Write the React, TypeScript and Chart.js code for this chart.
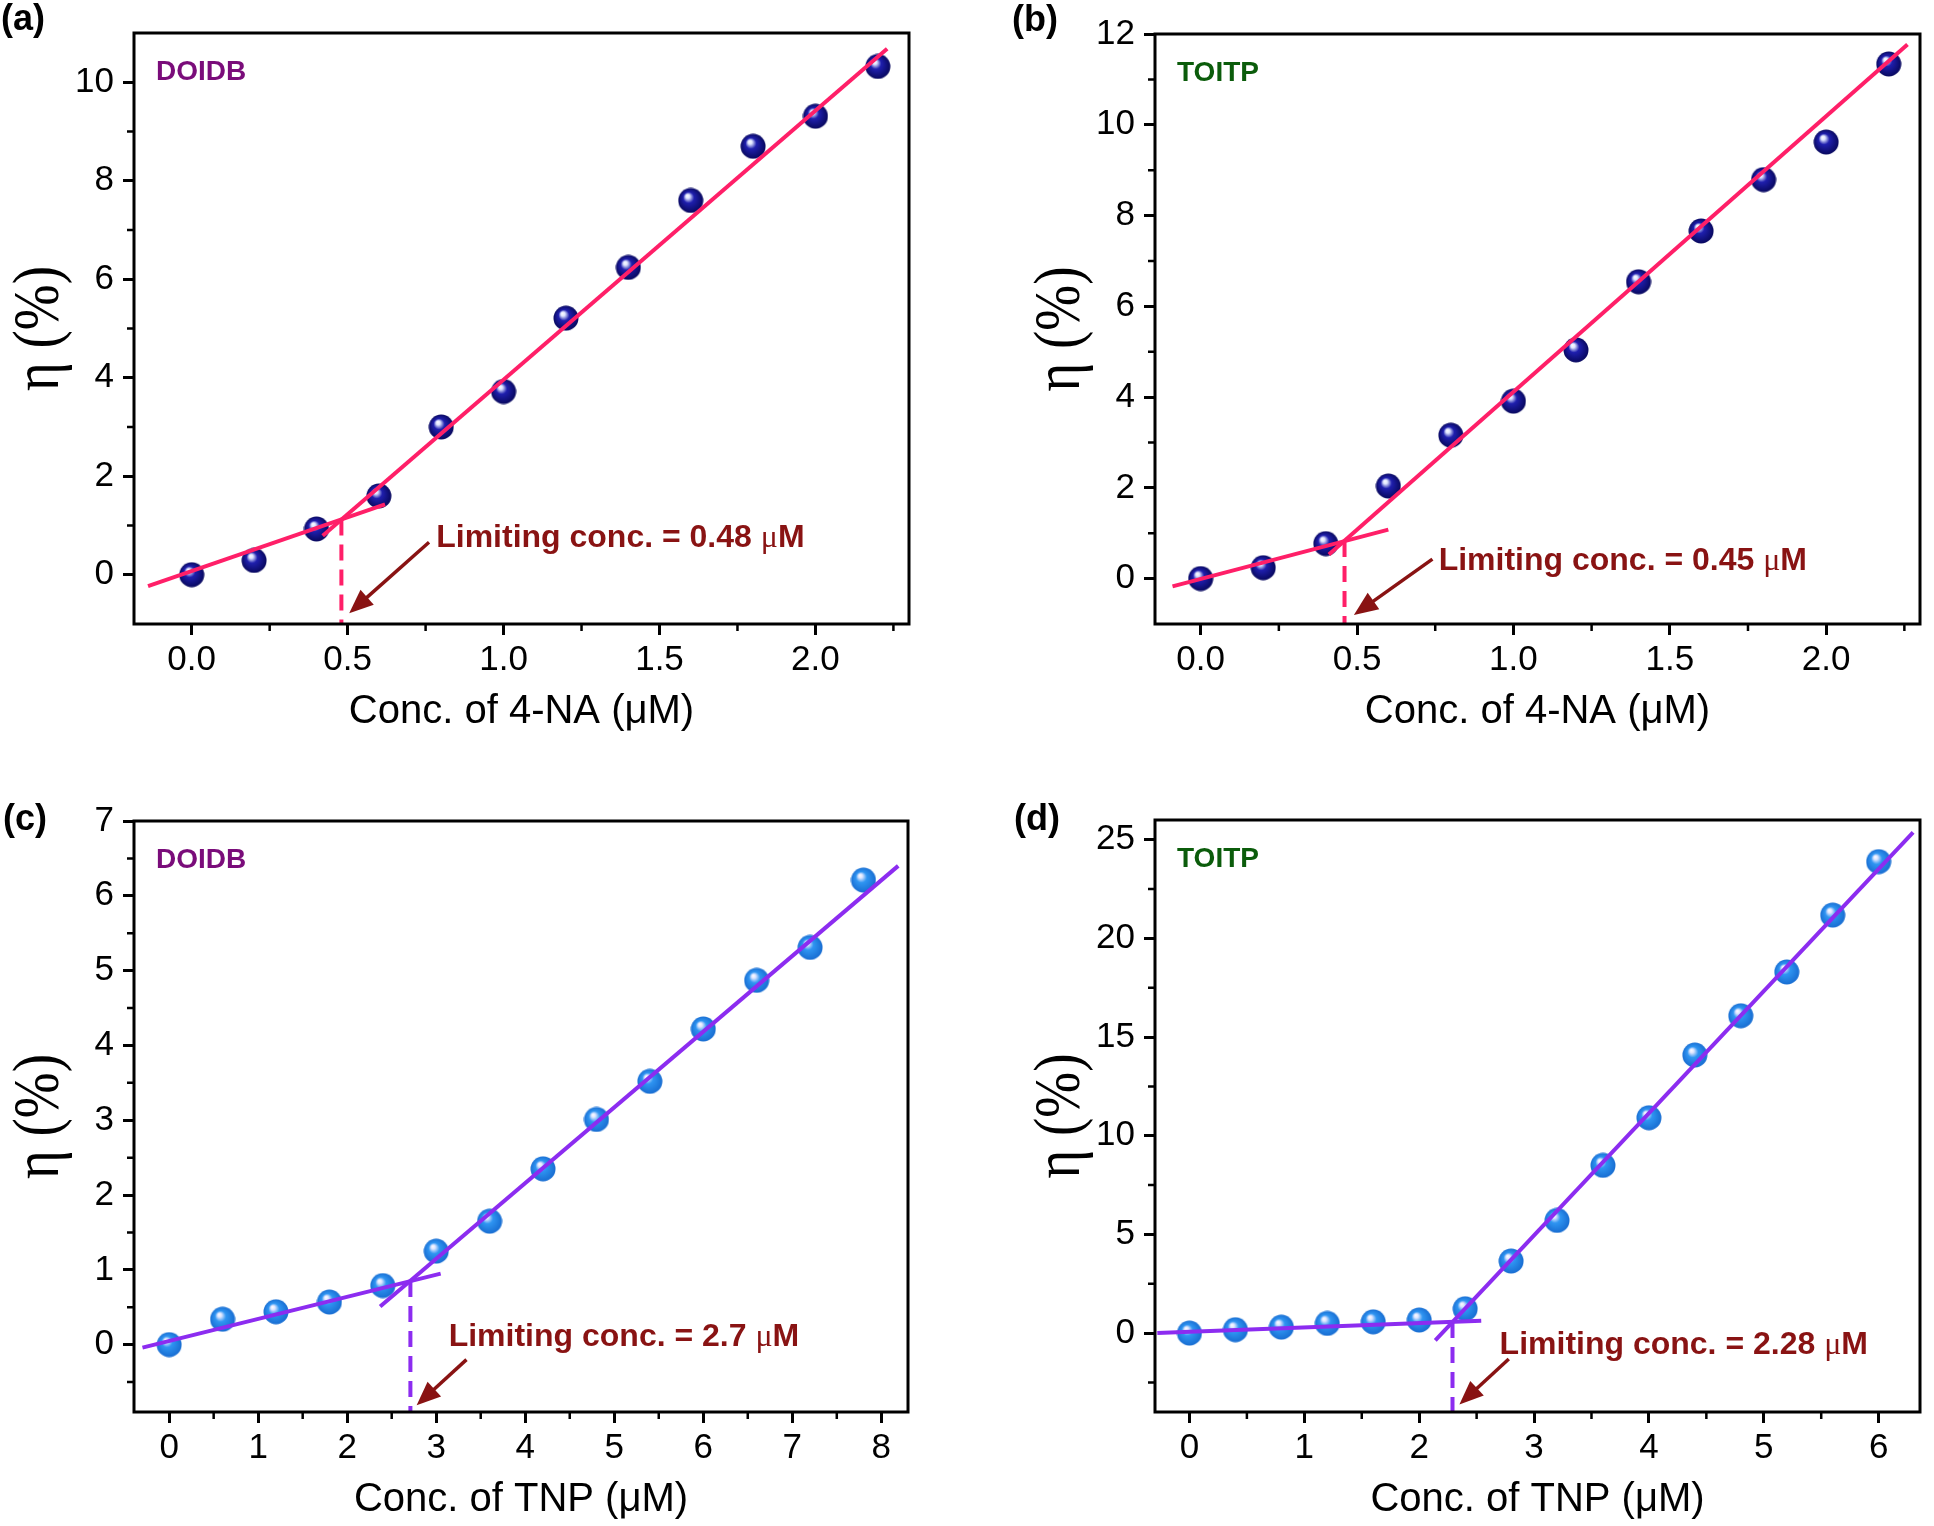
import React, { useEffect, useRef } from 'react';
import Chart from 'chart.js/auto';

// ---- panel (a): DOIDB vs 4-NA ----
const concA = [0, 0.2, 0.4, 0.6, 0.8, 1.0, 1.2, 1.4, 1.6, 1.8, 2.0, 2.2];
const etaA = [0.0, 0.29, 0.93, 1.6, 3.0, 3.72, 5.21, 6.24, 7.6, 8.7, 9.31, 10.32];
const fitLowA = [[-0.14, -0.23], [0.62, 1.43]];
const fitHighA = [[0.42, 0.79], [2.23, 10.68]];
const limitA = [0.48, 1.12];
const arrowA = [[0.761, 0.66], [0.505, -0.78]];
const xTicksA = [0, 0.5, 1.0, 1.5, 2.0];
const xMinorA = [0.25, 0.75, 1.25, 1.75, 2.25];
const yTicksA = [0, 2, 4, 6, 8, 10];
const yMinorA = [1, 3, 5, 7, 9];

// ---- panel (b): TOITP vs 4-NA ----
const concB = [0, 0.2, 0.4, 0.6, 0.8, 1.0, 1.2, 1.4, 1.6, 1.8, 2.0, 2.2];
const etaB = [0.0, 0.24, 0.77, 2.04, 3.16, 3.91, 5.04, 6.54, 7.66, 8.79, 9.62, 11.34];
const fitLowB = [[-0.09, -0.17], [0.6, 1.08]];
const fitHighB = [[0.41, 0.53], [2.26, 11.77]];
const limitB = [0.46, 0.83];
const arrowB = [[0.741, 0.43], [0.49, -0.8]];
const xTicksB = [0, 0.5, 1.0, 1.5, 2.0];
const xMinorB = [0.25, 0.75, 1.25, 1.75, 2.25];
const yTicksB = [0, 2, 4, 6, 8, 10, 12];
const yMinorB = [1, 3, 5, 7, 9, 11];

// ---- panel (c): DOIDB vs TNP ----
const concC = [0, 0.6, 1.2, 1.8, 2.4, 3.0, 3.6, 4.2, 4.8, 5.4, 6.0, 6.6, 7.2, 7.8];
const etaC = [0.0, 0.34, 0.44, 0.57, 0.79, 1.25, 1.65, 2.35, 3.01, 3.52, 4.22, 4.87, 5.31, 6.21];
const fitLowC = [[-0.3, -0.04], [3.05, 0.95]];
const fitHighC = [[2.37, 0.51], [8.19, 6.4]];
const limitC = [2.71, 0.85];
const arrowC = [[3.34, -0.2], [2.78, -0.81]];
const xTicksC = [0, 1, 2, 3, 4, 5, 6, 7, 8];
const xMinorC = [0.5, 1.5, 2.5, 3.5, 4.5, 5.5, 6.5, 7.5];
const yTicksC = [0, 1, 2, 3, 4, 5, 6, 7];
const yMinorC = [-0.5, 0.5, 1.5, 2.5, 3.5, 4.5, 5.5, 6.5];

// ---- panel (d): TOITP vs TNP ----
const concD = [0, 0.4, 0.8, 1.2, 1.6, 2.0, 2.4, 2.8, 3.2, 3.6, 4.0, 4.4, 4.8, 5.2, 5.6, 6.0];
const etaD = [0.0, 0.17, 0.3, 0.49, 0.57, 0.66, 1.23, 3.65, 5.71, 8.5, 10.91, 14.09, 16.08, 18.3, 21.18, 23.89];
const fitLowD = [[-0.28, 0.0], [2.54, 0.62]];
const fitHighD = [[2.14, -0.37], [6.3, 25.37]];
const limitD = [2.29, 0.56];
const arrowD = [[2.78, -1.31], [2.35, -3.62]];
const xTicksD = [0, 1, 2, 3, 4, 5, 6];
const xMinorD = [0.5, 1.5, 2.5, 3.5, 4.5, 5.5];
const yTicksD = [0, 5, 10, 15, 20, 25];
const yMinorD = [-2.5, 2.5, 7.5, 12.5, 17.5, 22.5];

const W = 967;
const H = 763;
const XAXIS_H = 114;
const SANS = '"Liberation Sans", Arial, sans-serif';
const SERIF = '"Liberation Serif", "Times New Roman", serif';
const PINK = '#ff1f68';
const VIOLET = '#8c2cf0';
const DARKRED = '#891313';
const Y_TITLE = '\u03b7 (%)';

function sphere(base: string, dark: string, d: number) {
  const c = document.createElement('canvas');
  c.width = d;
  c.height = d;
  const g = c.getContext('2d')!;
  const r = d / 2;
  const grad = g.createRadialGradient(r * 0.72, r * 0.62, 0, r, r, r);
  grad.addColorStop(0, '#ffffff');
  grad.addColorStop(0.16, '#dfe6ff');
  grad.addColorStop(0.42, base);
  grad.addColorStop(1, dark);
  g.fillStyle = grad;
  g.beginPath();
  g.arc(r, r, r - 0.5, 0, Math.PI * 2);
  g.fill();
  return c;
}

interface Panel {
  tag: string;
  ox: number;
  oy: number;
  left: number;
  top: number;
  right: number;
  bottom: number;
  tagX: number;
  tagY: number;
  name: string;
  nameColor: string;
  xTitle: string;
  limitText: string;
  lineColor: string;
  ball: [string, string];
  decimals: number;
  xMin: number;
  xMax: number;
  yMin: number;
  yMax: number;
  conc: number[];
  eta: number[];
  fitLow: number[][];
  fitHigh: number[][];
  limit: number[];
  arrow: number[][];
  textAt: number[];
  xTicks: number[];
  xMinor: number[];
  yTicks: number[];
  yMinor: number[];
}

const panels: Panel[] = [
  {
    tag: '(a)', ox: 0, oy: 0, left: 134, top: 33, right: 909, bottom: 624, tagX: 1, tagY: 20,
    name: 'DOIDB', nameColor: '#7a0c7a', xTitle: 'Conc. of 4-NA (\u03bcM)', limitText: 'Limiting conc. = 0.48 ',
    lineColor: PINK, ball: ['#1f1fae', '#07075a'], decimals: 1,
    xMin: -0.185, xMax: 2.3, yMin: -1, yMax: 11,
    conc: concA, eta: etaA, fitLow: fitLowA, fitHigh: fitHighA, limit: limitA, arrow: arrowA,
    textAt: [0.784, 0.56],
    xTicks: xTicksA, xMinor: xMinorA, yTicks: yTicksA, yMinor: yMinorA,
  },
  {
    tag: '(b)', ox: 967, oy: 0, left: 188, top: 34, right: 962, bottom: 624, tagX: 45, tagY: 21,
    name: 'TOITP', nameColor: '#0b5c0b', xTitle: 'Conc. of 4-NA (\u03bcM)', limitText: 'Limiting conc. = 0.45 ',
    lineColor: PINK, ball: ['#1f1fae', '#07075a'], decimals: 1,
    xMin: -0.146, xMax: 2.3, yMin: -1, yMax: 12,
    conc: concB, eta: etaB, fitLow: fitLowB, fitHigh: fitHighB, limit: limitB, arrow: arrowB,
    textAt: [0.761, 0.19],
    xTicks: xTicksB, xMinor: xMinorB, yTicks: yTicksB, yMinor: yMinorB,
  },
  {
    tag: '(c)', ox: 0, oy: 763, left: 134, top: 58, right: 908, bottom: 649, tagX: 3, tagY: 57,
    name: 'DOIDB', nameColor: '#7a0c7a', xTitle: 'Conc. of TNP (\u03bcM)', limitText: 'Limiting conc. = 2.7 ',
    lineColor: VIOLET, ball: ['#2f95f2', '#176bd0'], decimals: 0,
    xMin: -0.395, xMax: 8.3, yMin: -0.9, yMax: 7,
    conc: concC, eta: etaC, fitLow: fitLowC, fitHigh: fitHighC, limit: limitC, arrow: arrowC,
    textAt: [3.14, -0.02],
    xTicks: xTicksC, xMinor: xMinorC, yTicks: yTicksC, yMinor: yMinorC,
  },
  {
    tag: '(d)', ox: 967, oy: 763, left: 188, top: 57, right: 962, bottom: 649, tagX: 47, tagY: 57,
    name: 'TOITP', nameColor: '#0b5c0b', xTitle: 'Conc. of TNP (\u03bcM)', limitText: 'Limiting conc. = 2.28 ',
    lineColor: VIOLET, ball: ['#2f95f2', '#176bd0'], decimals: 0,
    xMin: -0.3, xMax: 6.36, yMin: -4, yMax: 26,
    conc: concD, eta: etaD, fitLow: fitLowD, fitHigh: fitHighD, limit: limitD, arrow: arrowD,
    textAt: [2.7, -1.06],
    xTicks: xTicksD, xMinor: xMinorD, yTicks: yTicksD, yMinor: yMinorD,
  },
];

const toPts = (pairs: number[][]) => pairs.map(([x, y]) => ({ x, y }));

function overlay(p: Panel) {
  return {
    id: 'overlay-' + p.tag,
    afterDatasetsDraw(chart: any) {
      const { ctx, chartArea: a, scales } = chart;
      const xs = scales.x;
      const ys = scales.y;
      ctx.save();
      // arrow pointing at the limiting concentration
      const x0 = xs.getPixelForValue(p.arrow[0][0]);
      const y0 = ys.getPixelForValue(p.arrow[0][1]);
      const x1 = xs.getPixelForValue(p.arrow[1][0]);
      const y1 = ys.getPixelForValue(p.arrow[1][1]);
      const ang = Math.atan2(y1 - y0, x1 - x0);
      const hl = 24;
      const hw = 10;
      const bx = x1 - hl * Math.cos(ang);
      const by = y1 - hl * Math.sin(ang);
      ctx.strokeStyle = DARKRED;
      ctx.fillStyle = DARKRED;
      ctx.lineWidth = 3.5;
      ctx.beginPath();
      ctx.moveTo(x0, y0);
      ctx.lineTo(bx + 4 * Math.cos(ang), by + 4 * Math.sin(ang));
      ctx.stroke();
      ctx.beginPath();
      ctx.moveTo(x1, y1);
      ctx.lineTo(bx - hw * Math.sin(ang), by + hw * Math.cos(ang));
      ctx.lineTo(bx + hw * Math.sin(ang), by - hw * Math.cos(ang));
      ctx.closePath();
      ctx.fill();
      // limiting text
      let tx = xs.getPixelForValue(p.textAt[0]);
      const ty = ys.getPixelForValue(p.textAt[1]);
      ctx.textBaseline = 'alphabetic';
      ctx.textAlign = 'left';
      ctx.font = 'bold 32px ' + SANS;
      ctx.fillText(p.limitText, tx, ty);
      tx += ctx.measureText(p.limitText).width;
      ctx.font = '32px ' + SERIF;
      ctx.fillText('\u03bc', tx, ty);
      tx += ctx.measureText('\u03bc').width;
      ctx.font = 'bold 32px ' + SANS;
      ctx.fillText('M', tx, ty);
      // compound name
      ctx.fillStyle = p.nameColor;
      ctx.font = 'bold 28px ' + SANS;
      ctx.fillText(p.name, a.left + 22, a.top + 47);
      ctx.restore();
    },
    afterDraw(chart: any) {
      const { ctx, chartArea: a, scales } = chart;
      ctx.save();
      ctx.strokeStyle = '#000';
      ctx.lineWidth = 3;
      ctx.strokeRect(a.left, a.top, a.right - a.left, a.bottom - a.top);
      ctx.lineWidth = 2.5;
      ctx.beginPath();
      p.xMinor.forEach((v) => {
        const x = scales.x.getPixelForValue(v);
        ctx.moveTo(x, a.bottom);
        ctx.lineTo(x, a.bottom + 7);
      });
      p.yMinor.forEach((v) => {
        const y = scales.y.getPixelForValue(v);
        ctx.moveTo(a.left, y);
        ctx.lineTo(a.left - 7, y);
      });
      ctx.stroke();
      // y title, a little taller than the plain serif face
      ctx.fillStyle = '#000';
      ctx.save();
      ctx.translate(a.left - 93, (a.top + a.bottom) / 2);
      ctx.rotate(-Math.PI / 2);
      ctx.scale(1, 1.2);
      ctx.font = '55px ' + SERIF;
      ctx.textAlign = 'center';
      ctx.textBaseline = 'middle';
      ctx.fillText(Y_TITLE, 0, 0);
      ctx.restore();
      // panel tag
      ctx.font = 'bold 36px ' + SANS;
      ctx.textBaseline = 'middle';
      ctx.textAlign = 'left';
      ctx.fillText(p.tag, p.tagX, p.tagY);
      ctx.restore();
    },
  };
}

function buildConfig(p: Panel): any {
  const ball = sphere(p.ball[0], p.ball[1], 26);
  const lineDs = (pts: number[][], dash: number[] = []) => ({
    data: toPts(pts),
    showLine: true,
    borderColor: p.lineColor,
    borderWidth: 4,
    borderDash: dash,
    pointRadius: 0,
    order: 1,
  });
  const tickGrid = {
    display: true,
    drawOnChartArea: false,
    drawTicks: true,
    tickLength: 11,
    tickWidth: 3,
    tickColor: '#000',
    color: '#000',
  };
  return {
    type: 'scatter',
    data: {
      datasets: [
        lineDs(p.fitLow),
        lineDs(p.fitHigh),
        lineDs([p.limit, [p.limit[0], p.yMin]], [16, 9]),
        {
          data: p.conc.map((x, i) => ({ x, y: p.eta[i] })),
          pointStyle: ball,
          pointRadius: 13,
          order: 2,
        },
      ],
    },
    options: {
      responsive: false,
      animation: false,
      devicePixelRatio: 1,
      layout: { padding: { left: 0, top: p.top, right: W - p.right, bottom: H - p.bottom - XAXIS_H } },
      plugins: { legend: { display: false }, tooltip: { enabled: false } },
      scales: {
        x: {
          type: 'linear',
          min: p.xMin,
          max: p.xMax,
          afterBuildTicks: (s: any) => { s.ticks = p.xTicks.map((v) => ({ value: v })); },
          afterFit: (s: any) => { s.height = XAXIS_H; },
          grid: tickGrid,
          border: { display: false },
          ticks: {
            color: '#000',
            font: { family: SANS, size: 35 },
            padding: 4,
            maxRotation: 0,
            autoSkip: false,
            callback: (v: number) => Number(v).toFixed(p.decimals),
          },
          title: {
            display: true,
            text: p.xTitle,
            color: '#000',
            font: { family: SANS, size: 40 },
            padding: { top: 0, bottom: 2 },
          },
        },
        y: {
          type: 'linear',
          min: p.yMin,
          max: p.yMax,
          afterBuildTicks: (s: any) => { s.ticks = p.yTicks.map((v) => ({ value: v })); },
          afterFit: (s: any) => { s.width = p.left; },
          grid: tickGrid,
          border: { display: false },
          ticks: {
            color: '#000',
            font: { family: SANS, size: 35 },
            padding: 9,
            autoSkip: false,
            callback: (v: number) => String(v),
          },
          title: { display: false },
        },
      },
    },
    plugins: [overlay(p)],
  };
}

const PanelChart: React.FC<{ p: Panel }> = ({ p }) => {
  const canvasRef = useRef<HTMLCanvasElement>(null);
  useEffect(() => {
    if (!canvasRef.current) return;
    const chart = new Chart(canvasRef.current, buildConfig(p));
    return () => chart.destroy();
  }, [p]);
  return (
    <div style={{ position: 'absolute', left: p.ox, top: p.oy, width: W, height: H }}>
      <canvas ref={canvasRef} width={W} height={H} />
    </div>
  );
};

export default function App() {
  return (
    <div style={{ position: 'absolute', left: 0, top: 0, width: 1934, height: 1526, background: '#fff', overflow: 'hidden' }}>
      {panels.map((p) => (
        <PanelChart key={p.tag} p={p} />
      ))}
    </div>
  );
}
